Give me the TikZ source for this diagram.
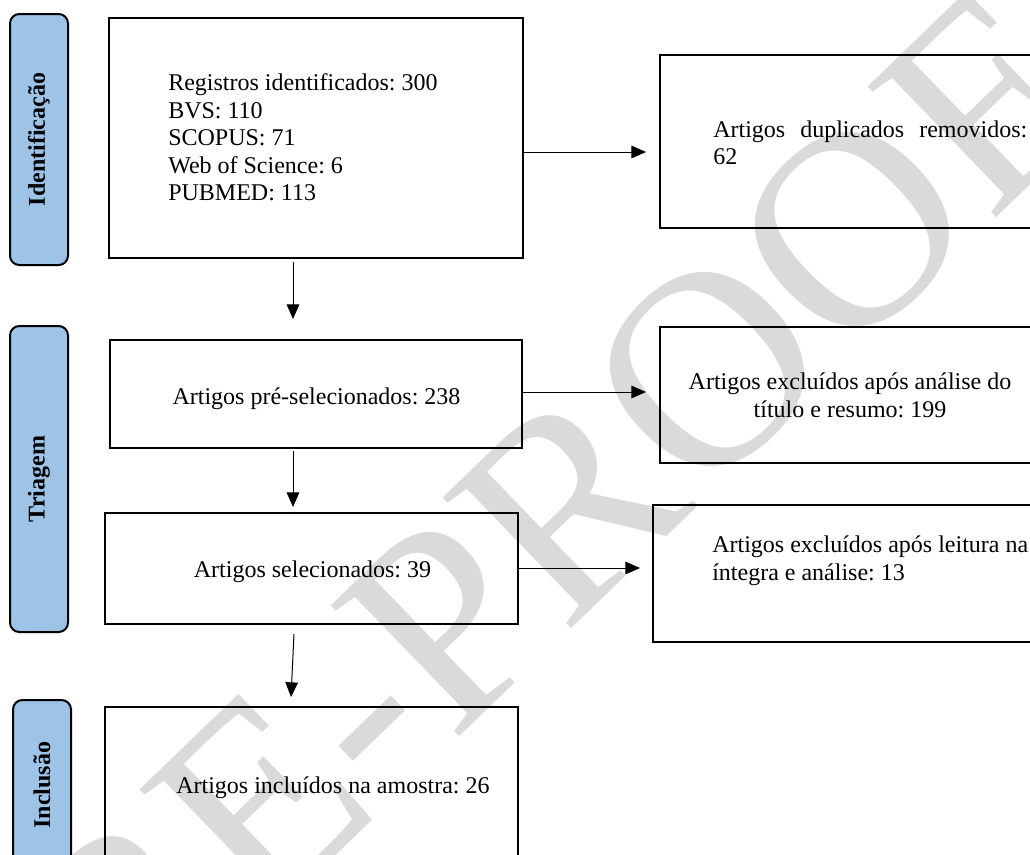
\documentclass[tikz,border=0pt]{standalone}
\usepackage{fontspec}
\setmainfont{Liberation Serif}
\usepackage{xcolor}
\usepackage{tikz}
\usetikzlibrary{arrows.meta}
\frenchspacing

\definecolor{phaseblue}{RGB}{157,195,230}
\definecolor{wmgray}{RGB}{218,218,218}

\tikzset{
    box/.style={draw, line width=1.5pt, inner sep=0pt},
    phase/.style={draw, line width=1.5pt, rounded corners=7pt, fill=phaseblue,
        rotate=90, minimum height=43.5pt, inner sep=0pt,
        font=\fontsize{18}{20.6}\selectfont\bfseries},
    txt/.style={font=\fontsize{18}{20.6}\selectfont, inner sep=0pt, align=left},
    flow/.style={line width=0.75pt, -{Triangle[length=11pt,width=9.5pt]}},
    watermark/.style={text=wmgray, inner sep=0pt, font=\fontsize{210}{210}\selectfont}
}

\begin{document}
\begin{tikzpicture}[x=0.75pt,y=-0.75pt]
            \useasboundingbox (0,0) rectangle (1030,854);

            \node[watermark, rotate=44] (wm) at (495,575) {PRE-PROOF};

            \node[phase, minimum width=188.25pt] (idbar) at (39,139.5) {Identificação};
            \node[phase, minimum width=229.5pt] (tribar) at (39,479) {Triagem};
            \node[phase, minimum width=127.5pt] (incbar) at (42,785) {Inclusão};

            \node[box, minimum width=310.5pt, minimum height=180pt] (idbox) at (316,138) {};
            \node[box, minimum width=288.75pt, minimum height=129.75pt] (dupbox) at (852.5,141.5) {};
            \node[box, minimum width=309pt, minimum height=81pt] (prebox) at (316,394) {};
            \node[box, minimum width=288.75pt, minimum height=102pt] (exc1box) at (852.5,395) {};
            \node[box, minimum width=309.75pt, minimum height=83.25pt] (selbox) at (311.5,568.5) {};
            \node[box, minimum width=294pt, minimum height=102.75pt] (exc2box) at (849,573.5) {};
            \node[box, minimum width=309.75pt, minimum height=122.25pt] (incbox) at (311.5,788.5) {};

            \node[txt, anchor=north west] (idtxt) at (168,73.6)
                {Registros identificados: 300\\BVS: 110\\SCOPUS: 71\\Web of Science: 6\\PUBMED: 113};
            \node[txt, anchor=north west, text width=235.5pt] (duptxt) at (713,120.6)
                {Artigos\hfill duplicados\hfill removidos:\\62};
            \node[txt, anchor=base] (pretxt) at (316.5,404) {Artigos pré-selecionados: 238};
            \node[txt, anchor=north, align=center] (exc1txt) at (850,372.6)
                {Artigos excluídos após análise do\\título e resumo: 199};
            \node[txt, anchor=base] (seltxt) at (312.5,577) {Artigos selecionados: 39};
            \node[txt, anchor=north west] (exc2txt) at (712,535.6)
                {Artigos excluídos após leitura na\\íntegra e análise: 13};
            \node[txt, anchor=base west] (inctxt) at (176,793) {Artigos incluídos na amostra: 26};

            \draw[flow] ([shift={(0,14)}]idbox.east) -- ([shift={(-13,10.5)}]dupbox.west);
            \draw[flow] ([shift={(0,-2)}]prebox.east) -- ([shift={(-13,-3)}]exc1box.west);
            \draw[flow] ([shift={(0,-0.5)}]selbox.east) -- ([shift={(-12,-5.5)}]exc2box.west);
            \draw[flow] ([shift={(-23,3)}]idbox.south) -- ([shift={(-23,-20)}]prebox.north);
            \draw[flow] ([shift={(-23,2)}]prebox.south) -- ([shift={(-18.5,-5)}]selbox.north);
            \draw[flow] ([shift={(-17.5,9)}]selbox.south) -- ([shift={(-20.5,-9)}]incbox.north);
\end{tikzpicture}
\end{document}
